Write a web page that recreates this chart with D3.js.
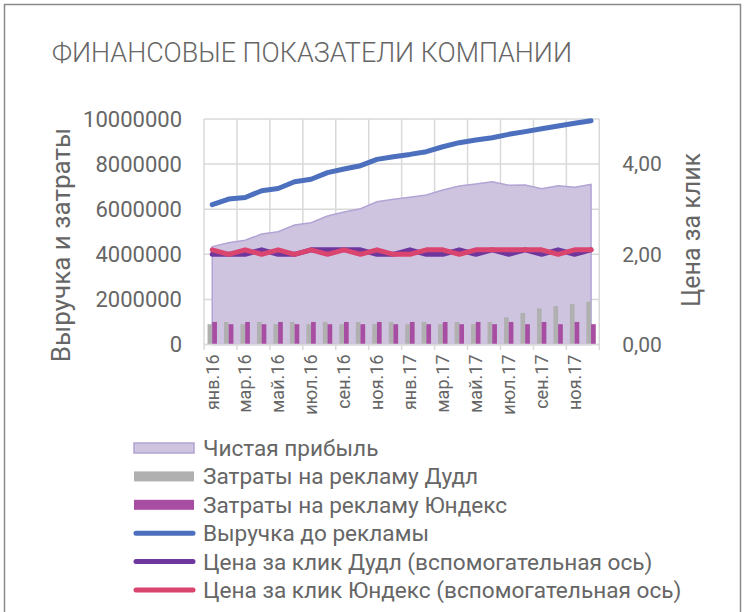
<!DOCTYPE html>
<html>
<head>
<meta charset="utf-8">
<script src="https://cdn.jsdelivr.net/npm/d3@7"></script>
<style>
  body { margin: 0; background: #fff; }
  svg { display: block; font-family: Roboto, "Noto Sans", sans-serif; }
</style>
</head>
<body>
<svg width="750" height="612"></svg>
<script>
const months = [
  'янв.16', 'фев.16', 'мар.16', 'апр.16', 'май.16', 'июн.16',
  'июл.16', 'авг.16', 'сен.16', 'окт.16', 'ноя.16', 'дек.16',
  'янв.17', 'фев.17', 'мар.17', 'апр.17', 'май.17', 'июн.17',
  'июл.17', 'авг.17', 'сен.17', 'окт.17', 'ноя.17', 'дек.17'
];

// net profit (area)
const profit = [
  4340000, 4510000, 4620000, 4900000, 5000000, 5300000,
  5400000, 5700000, 5880000, 6020000, 6330000, 6440000,
  6530000, 6630000, 6850000, 7030000, 7120000, 7220000,
  7060000, 7070000, 6910000, 7040000, 6970000, 7100000
];

// ad spend, Dudl (grey bars)
const costDudl = [
  900000, 1000000, 900000, 1000000, 900000, 1000000,
  900000, 1000000, 900000, 1000000, 900000, 1000000,
  900000, 1000000, 900000, 1000000, 900000, 1000000,
  1200000, 1400000, 1600000, 1700000, 1800000, 1900000
];

// ad spend, Yundex (magenta bars)
const costYundex = [
  1000000, 900000, 1000000, 900000, 1000000, 900000,
  1000000, 900000, 1000000, 900000, 1000000, 900000,
  1000000, 900000, 1000000, 900000, 1000000, 900000,
  1000000, 900000, 1000000, 900000, 1000000, 900000
];

// revenue before advertising
const revenue = [
  6200000, 6450000, 6520000, 6820000, 6920000, 7220000,
  7330000, 7620000, 7780000, 7930000, 8210000, 8330000,
  8430000, 8550000, 8770000, 8950000, 9070000, 9170000,
  9320000, 9440000, 9570000, 9690000, 9810000, 9920000
];

// cost per click (secondary axis)
const cpcDudl = [
  2.0, 2.0, 2.0, 2.1, 2.0, 2.0, 2.1, 2.1, 2.1, 2.1, 2.0, 2.0,
  2.1, 2.0, 2.0, 2.1, 2.0, 2.1, 2.0, 2.1, 2.0, 2.1, 2.0, 2.1
];
const cpcYundex = [
  2.1, 2.0, 2.1, 2.0, 2.1, 2.0, 2.1, 2.0, 2.1, 2.0, 2.1, 2.0,
  2.0, 2.1, 2.1, 2.0, 2.1, 2.1, 2.1, 2.1, 2.1, 2.0, 2.1, 2.1
];

const leftTicks = [0, 2000000, 4000000, 6000000, 8000000, 10000000];
const rightTicks = [0, 2, 4];

const legendItems = [
  {label: 'Чистая прибыль', type: 'area', color: '#cfc4e0', stroke: '#b2a4d4'},
  {label: 'Затраты на рекламу Дудл', type: 'bar', color: '#b0b0b0'},
  {label: 'Затраты на рекламу Юндекс', type: 'bar', color: '#a74da2'},
  {label: 'Выручка до рекламы', type: 'line', color: '#4c70bd'},
  {label: 'Цена за клик Дудл (вспомогательная ось)', type: 'line', color: '#6d379e'},
  {label: 'Цена за клик Юндекс (вспомогательная ось)', type: 'line', color: '#da4570'}
];

const svg = d3.select('svg');
const textColor = '#666';
const gridColor = '#d9d9d9';

// chart frame
svg.append('rect')
  .attr('x', 4.5).attr('y', 4.5)
  .attr('width', 736).attr('height', 620)
  .attr('fill', 'none')
  .attr('stroke', '#8a8a8a')
  .attr('stroke-width', 1.5);

const x = d3.scaleBand().domain(months).range([204, 599.3]);
const yL = d3.scaleLinear().domain([0, 10000000]).range([344.5, 119]);
const yR = d3.scaleLinear().domain([0, 5]).range([344.5, 119]);
const cx = (m) => x(m) + x.bandwidth() / 2;

const data = months.map((m, i) => ({
  m,
  profit: profit[i],
  dudl: costDudl[i],
  yundex: costYundex[i],
  revenue: revenue[i],
  cpcD: cpcDudl[i],
  cpcY: cpcYundex[i]
}));

// grid
const boundaries = months.filter((d, i) => i % 2 === 0).map((m) => x(m)).concat([x.range()[1]]);
const grid = svg.append('g').attr('class', 'grid');
grid.selectAll('line.h')
  .data(leftTicks)
  .enter()
  .append('line')
  .attr('x1', 204).attr('x2', 599.3)
  .attr('y1', (d) => yL(d)).attr('y2', (d) => yL(d))
  .attr('stroke', gridColor)
  .attr('stroke-width', 1.5);
grid.selectAll('line.v')
  .data(boundaries)
  .enter()
  .append('line')
  .attr('x1', (d) => d).attr('x2', (d) => d)
  .attr('y1', 119).attr('y2', 344.5)
  .attr('stroke', gridColor)
  .attr('stroke-width', 1.5);

// area: net profit
const area = d3.area()
  .x((d) => cx(d.m))
  .y0(yL(0))
  .y1((d) => yL(d.profit));
svg.append('path')
  .datum(data)
  .attr('d', area)
  .attr('fill', '#cfc4e0')
  .attr('stroke', '#b2a4d4')
  .attr('stroke-width', 1.5);

// bars
const inner = d3.scaleBand()
  .domain(['dudl', 'yundex'])
  .range([0, x.bandwidth()])
  .paddingInner(0)
  .paddingOuter(0.75);
const barColors = {dudl: '#b0b0b0', yundex: '#a74da2'};
svg.append('g')
  .selectAll('g')
  .data(data)
  .enter()
  .append('g')
  .attr('transform', (d) => `translate(${x(d.m)},0)`)
  .selectAll('rect')
  .data((d) => ['dudl', 'yundex'].map((k) => ({k, v: d[k]})))
  .enter()
  .append('rect')
  .attr('x', (d) => inner(d.k))
  .attr('width', inner.bandwidth())
  .attr('y', (d) => yL(d.v))
  .attr('height', (d) => yL(0) - yL(d.v))
  .attr('fill', (d) => barColors[d.k]);

// x axis line + tick marks
svg.append('line')
  .attr('x1', 204).attr('x2', 599.3)
  .attr('y1', 344.5).attr('y2', 344.5)
  .attr('stroke', gridColor)
  .attr('stroke-width', 1.5);
svg.append('g')
  .selectAll('line')
  .data(boundaries)
  .enter()
  .append('line')
  .attr('x1', (d) => d).attr('x2', (d) => d)
  .attr('y1', 344.5).attr('y2', 350)
  .attr('stroke', gridColor)
  .attr('stroke-width', 1.5);

// lines
const lineRev = d3.line().x((d) => cx(d.m)).y((d) => yL(d.revenue));
const lineD = d3.line().x((d) => cx(d.m)).y((d) => yR(d.cpcD));
const lineY = d3.line().x((d) => cx(d.m)).y((d) => yR(d.cpcY));
[[lineRev, '#4c70bd'], [lineD, '#6d379e'], [lineY, '#da4570']].forEach(([gen, color]) => {
  svg.append('path')
    .datum(data)
    .attr('d', gen)
    .attr('fill', 'none')
    .attr('stroke', color)
    .attr('stroke-width', 5)
    .attr('stroke-linejoin', 'round')
    .attr('stroke-linecap', 'round');
});

// left axis
const axL = svg.append('g')
  .attr('transform', 'translate(204,0)')
  .call(d3.axisLeft(yL).tickValues(leftTicks).tickSize(0).tickPadding(22).tickFormat(d3.format('d')));
axL.select('.domain').remove();
axL.selectAll('text')
  .attr('fill', textColor)
  .style('font-size', '22px')
  .style('font-family', 'Roboto');

// right axis
const axR = svg.append('g')
  .attr('transform', 'translate(599.3,0)')
  .call(d3.axisRight(yR).tickValues(rightTicks).tickSize(0).tickPadding(23)
    .tickFormat((d) => d3.format('.2f')(d).replace('.', ',')));
axR.select('.domain').remove();
axR.selectAll('text')
  .attr('fill', textColor)
  .style('font-size', '21px')
  .style('font-family', 'Roboto');

// x labels (every second month)
const axX = svg.append('g')
  .attr('transform', 'translate(0,344.5)')
  .call(d3.axisBottom(x).tickValues(months.filter((d, i) => i % 2 === 0)).tickSize(0));
axX.select('.domain').remove();
axX.selectAll('text')
  .attr('fill', textColor)
  .style('font-size', '18px')
  .style('font-family', 'Roboto')
  .attr('text-anchor', 'end')
  .attr('dy', '0.35em')
  .attr('transform', 'translate(0,10) rotate(-90)')
  .attr('x', 0)
  .attr('y', 0);

// title
svg.append('text')
  .attr('x', 52).attr('y', 62)
  .attr('fill', textColor)
  .style('font-size', '28px')
  .style('font-weight', 300)
  .attr('textLength', 520)
  .attr('lengthAdjust', 'spacingAndGlyphs')
  .text('ФИНАНСОВЫЕ ПОКАЗАТЕЛИ КОМПАНИИ');

// axis titles
svg.append('text')
  .attr('transform', 'translate(70,245) rotate(-90)')
  .attr('text-anchor', 'middle')
  .attr('fill', textColor)
  .style('font-size', '26px')
  .text('Выручка и затраты');
svg.append('text')
  .attr('transform', 'translate(700,230) rotate(-90)')
  .attr('text-anchor', 'middle')
  .attr('fill', textColor)
  .style('font-size', '25px')
  .text('Цена за клик');

// legend
const legend = svg.append('g').attr('class', 'legend');
const rowY = d3.scalePoint().domain(legendItems.map((d) => d.label)).range([448, 590]);
legendItems.forEach((item) => {
  const yy = rowY(item.label);
  if (item.type === 'line') {
    legend.append('line')
      .attr('x1', 136).attr('x2', 193)
      .attr('y1', yy).attr('y2', yy)
      .attr('stroke', item.color)
      .attr('stroke-width', 5)
      .attr('stroke-linecap', 'round');
  } else {
    legend.append('rect')
      .attr('x', 134).attr('y', yy - 5)
      .attr('width', 60).attr('height', 10)
      .attr('fill', item.color)
      .attr('stroke', item.stroke || 'none')
      .attr('stroke-width', 1.5);
  }
  legend.append('text')
    .attr('x', 203).attr('y', yy)
    .attr('dy', '0.35em')
    .attr('fill', textColor)
    .style('font-size', '22.6px')
    .text(item.label);
});
</script>
</body>
</html>
